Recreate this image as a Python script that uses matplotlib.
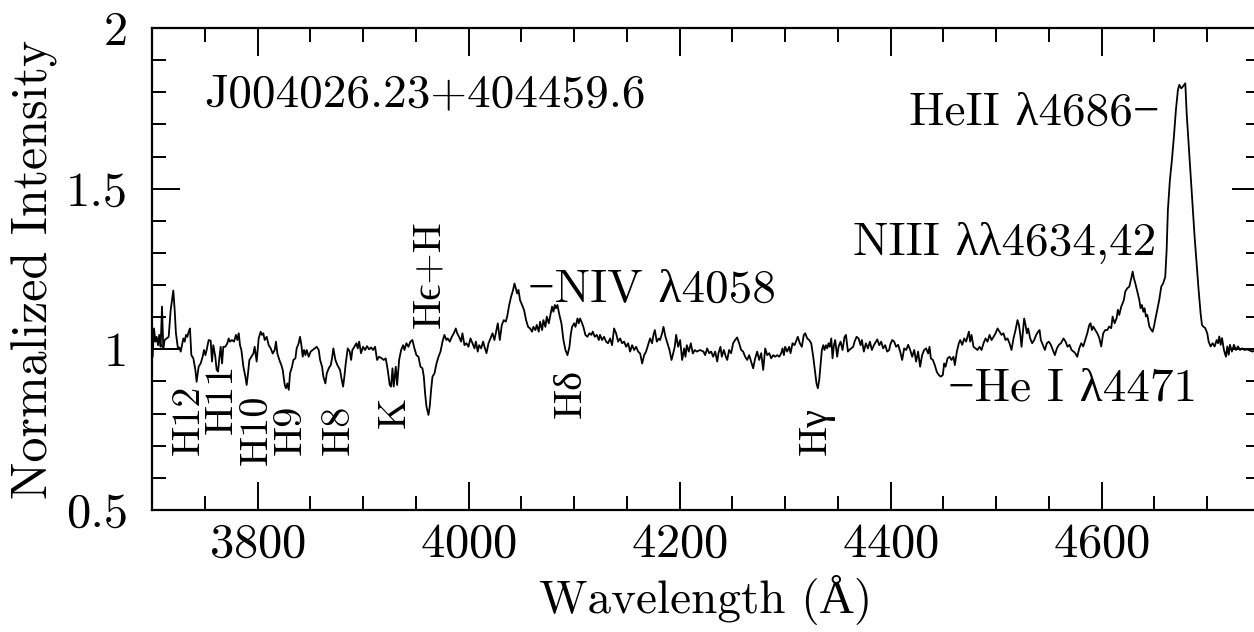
import matplotlib
matplotlib.use("Agg")
import matplotlib.pyplot as plt
from matplotlib.ticker import MultipleLocator, FuncFormatter

plt.rcParams["font.family"] = ["cmr10", "Liberation Serif", "DejaVu Serif"]
plt.rcParams["mathtext.fontset"] = "cm"
plt.rcParams["axes.formatter.use_mathtext"] = True

# spectre (longueur d'onde en A, intensite normalisee)
wl = [
    # 3700 - 3876
    3700.6, 3701.9, 3703.2, 3704.4, 3705.7, 3706.9, 3708.2, 3709.5, 3710.7, 3712.0,
    3713.9, 3715.8, 3717.7, 3720.2, 3721.5, 3722.7, 3724.6, 3725.9, 3727.2, 3728.4,
    3729.7, 3731.0, 3732.2, 3733.5, 3734.8, 3736.0, 3737.3, 3739.2, 3741.1, 3742.3,
    3744.2, 3746.1, 3748.0, 3749.3, 3750.6, 3751.8, 3753.7, 3755.6, 3756.9, 3758.1,
    3760.0, 3761.3, 3762.6, 3763.8, 3765.1, 3766.4, 3767.6, 3769.5, 3771.4, 3772.7,
    3773.9, 3775.8, 3777.7, 3779.6, 3780.9, 3782.2, 3783.4, 3784.7, 3786.6, 3788.5,
    3789.7, 3791.0, 3792.3, 3794.2, 3796.1, 3797.3, 3799.2, 3801.1, 3803.0, 3804.3,
    3805.5, 3806.8, 3808.7, 3810.6, 3812.5, 3814.4, 3816.3, 3817.5, 3818.8, 3820.7,
    3822.6, 3823.9, 3825.8, 3827.0, 3828.3, 3829.6, 3830.8, 3832.7, 3834.0, 3835.9,
    3837.1, 3839.0, 3840.3, 3841.6, 3842.8, 3844.1, 3845.4, 3846.6, 3848.5, 3850.4,
    3852.3, 3854.2, 3856.1, 3858.0, 3859.3, 3861.2, 3862.4, 3864.3, 3865.6, 3867.5,
    3869.4, 3870.6, 3871.9, 3873.8, 3875.7,
    # 3878 - 4047
    3878.2, 3879.8, 3881.1, 3882.3, 3883.6, 3885.5, 3887.4, 3888.7, 3889.9, 3891.8,
    3893.7, 3895.0, 3896.3, 3898.1, 3900.0, 3901.9, 3903.8, 3905.7, 3907.6, 3909.5,
    3911.4, 3913.3, 3915.2, 3917.7, 3919.6, 3921.5, 3923.4, 3925.3, 3926.6, 3927.9,
    3929.1, 3931.0, 3932.3, 3934.2, 3936.1, 3938.0, 3939.2, 3941.1, 3943.0, 3944.9,
    3946.8, 3948.7, 3950.6, 3952.5, 3954.4, 3956.3, 3957.6, 3958.8, 3960.1, 3962.0,
    3963.2, 3964.5, 3965.8, 3967.7, 3969.6, 3971.5, 3973.4, 3975.3, 3977.1, 3979.0,
    3980.3, 3982.2, 3984.1, 3986.0, 3987.9, 3989.2, 3991.0, 3992.9, 3994.2, 3996.1,
    3998.0, 3999.9, 4001.8, 4003.7, 4005.6, 4006.9, 4008.7, 4010.0, 4011.9, 4013.8,
    4015.1, 4017.0, 4018.9, 4020.8, 4022.7, 4024.5, 4025.8, 4027.7, 4029.6, 4031.5,
    4033.4, 4035.3, 4036.6, 4038.5, 4040.3, 4042.2, 4043.5, 4044.8, 4046.0, 4047.3,
    # 4049 - 4223
    4048.8, 4050.7, 4052.6, 4054.5, 4056.4, 4058.3, 4060.2, 4061.4, 4063.3, 4064.6,
    4066.5, 4067.8, 4069.7, 4070.9, 4072.8, 4074.1, 4076.0, 4077.9, 4079.1, 4080.4,
    4081.7, 4082.9, 4084.2, 4086.1, 4088.0, 4089.9, 4091.8, 4093.7, 4095.6, 4096.8,
    4098.1, 4100.0, 4101.3, 4103.2, 4104.4, 4105.7, 4107.6, 4108.8, 4110.7, 4112.6,
    4114.5, 4116.4, 4117.7, 4119.6, 4121.5, 4123.4, 4124.6, 4126.5, 4128.4, 4130.3,
    4132.2, 4134.1, 4136.0, 4137.9, 4139.8, 4141.7, 4143.6, 4145.5, 4147.4, 4149.3,
    4151.2, 4153.1, 4155.0, 4156.9, 4158.8, 4160.7, 4162.6, 4164.5, 4166.4, 4168.2,
    4170.1, 4172.0, 4173.9, 4175.2, 4176.5, 4178.4, 4180.3, 4181.5, 4183.4, 4184.7,
    4186.6, 4188.5, 4190.4, 4192.3, 4193.5, 4195.4, 4196.7, 4198.6, 4200.5, 4202.4,
    4204.3, 4205.5, 4206.8, 4208.7, 4210.6, 4212.5, 4214.4, 4216.3, 4219.4, 4222.6,
    # 4224 - 4399
    4224.2, 4226.1, 4228.0, 4229.9, 4231.8, 4233.7, 4235.6, 4236.8, 4238.7, 4240.0,
    4241.9, 4243.8, 4245.1, 4246.9, 4248.8, 4250.7, 4252.6, 4254.5, 4256.4, 4258.3,
    4260.2, 4262.1, 4264.0, 4265.9, 4267.8, 4269.7, 4271.6, 4273.5, 4275.4, 4277.3,
    4279.2, 4281.1, 4283.0, 4284.9, 4286.8, 4288.7, 4290.6, 4292.5, 4294.4, 4296.3,
    4297.5, 4298.8, 4300.0, 4301.9, 4303.8, 4305.1, 4307.0, 4308.9, 4310.8, 4312.0,
    4313.9, 4315.8, 4317.7, 4319.0, 4320.9, 4322.8, 4324.7, 4326.6, 4328.5, 4329.7,
    4331.0, 4332.3, 4333.5, 4334.8, 4336.1, 4337.3, 4338.6, 4339.9, 4341.1, 4342.4,
    4343.7, 4344.9, 4346.2, 4347.4, 4349.3, 4350.6, 4352.5, 4354.4, 4356.3, 4357.6,
    4359.5, 4360.7, 4362.6, 4364.5, 4365.8, 4367.7, 4369.6, 4371.5, 4372.7, 4374.6,
    4376.5, 4378.4, 4380.3, 4382.2, 4384.1, 4386.0, 4387.3, 4389.2, 4391.0, 4392.9,
    4394.8, 4396.7, 4398.6,
    # 4400 - 4573
    4399.5, 4401.4, 4403.3, 4405.2, 4407.1, 4409.0, 4410.9, 4412.8, 4414.7, 4416.6,
    4418.5, 4420.4, 4422.3, 4424.1, 4426.0, 4427.9, 4429.8, 4431.7, 4433.6, 4435.5,
    4436.8, 4438.1, 4440.0, 4441.8, 4443.7, 4445.6, 4447.5, 4449.4, 4450.7, 4452.0,
    4453.9, 4455.8, 4457.6, 4459.5, 4460.8, 4462.7, 4464.6, 4465.9, 4467.8, 4469.7,
    4471.5, 4472.8, 4474.1, 4475.3, 4476.6, 4478.5, 4480.4, 4482.3, 4484.2, 4486.1,
    4488.0, 4489.9, 4491.8, 4493.7, 4495.6, 4497.5, 4499.4, 4501.3, 4503.2, 4505.0,
    4506.9, 4508.8, 4510.7, 4512.6, 4514.5, 4516.4, 4518.3, 4520.2, 4521.5, 4522.7,
    4524.0, 4525.3, 4526.5, 4527.8, 4529.1, 4530.3, 4532.2, 4534.1, 4536.0, 4537.9,
    4539.8, 4541.1, 4542.3, 4544.2, 4546.1, 4548.0, 4549.9, 4551.8, 4553.7, 4555.6,
    4557.5, 4559.4, 4561.3, 4563.8, 4565.7, 4567.6, 4569.5, 4571.4, 4573.3,
    # 4575 - 4745
    4574.9, 4576.8, 4578.7, 4580.6, 4582.5, 4584.4, 4586.3, 4588.2, 4589.4, 4590.7,
    4592.0, 4593.9, 4595.8, 4597.7, 4599.5, 4601.4, 4603.3, 4605.2, 4607.1, 4609.0,
    4610.3, 4612.2, 4614.1, 4615.3, 4616.6, 4618.5, 4619.8, 4621.0, 4622.3, 4624.2,
    4626.1, 4628.0, 4629.3, 4630.5, 4631.8, 4633.7, 4635.6, 4636.8, 4638.1, 4639.4,
    4640.6, 4641.9, 4643.2, 4645.1, 4647.0, 4648.2, 4649.5, 4650.7, 4652.6, 4654.5,
    4656.4, 4658.3, 4660.2, 4661.5, 4662.7, 4664.6, 4666.5, 4668.4, 4670.3, 4672.2,
    4673.5, 4675.4, 4676.7, 4678.0, 4679.2, 4680.5, 4682.3, 4684.2, 4686.1, 4688.0,
    4689.9, 4691.8, 4693.7, 4695.0, 4696.2, 4698.1, 4700.0, 4701.3, 4703.2, 4705.1,
    4707.0, 4708.9, 4710.2, 4711.4, 4712.7, 4714.0, 4715.8, 4717.7, 4719.0, 4720.3,
    4721.5, 4723.4, 4725.3, 4727.2, 4729.1, 4731.0, 4732.9, 4735.4, 4738.0, 4740.5,
    4743.0, 4744.3,
]

flux = [
    0.977, 1.065, 1.024, 1.039, 1.013, 1.045, 1.008, 1.133, 1.003, 1.029,
    1.034, 1.039, 1.122, 1.183, 1.122, 1.050, 1.003, 1.006, 0.993, 1.013,
    1.034, 1.024, 1.045, 1.039, 1.055, 1.065, 0.982, 0.972, 0.936, 0.899,
    0.946, 0.956, 0.977, 0.998, 0.982, 0.998, 1.029, 1.027, 0.962, 1.013,
    0.977, 0.936, 0.931, 0.972, 1.008, 0.956, 1.008, 1.008, 1.019, 1.034,
    1.024, 1.029, 1.024, 1.045, 1.029, 1.050, 1.013, 0.998, 0.946, 0.915,
    0.889, 0.925, 0.967, 0.977, 0.987, 1.008, 0.962, 1.034, 1.055, 1.045,
    1.050, 1.029, 1.039, 1.013, 1.003, 0.987, 0.998, 1.024, 0.987, 0.967,
    0.951, 0.936, 0.889, 0.879, 0.894, 0.874, 0.925, 0.946, 0.967, 0.972,
    1.003, 1.019, 1.039, 1.013, 0.977, 0.998, 0.982, 0.998, 0.977, 0.993,
    0.998, 1.003, 1.008, 0.998, 0.967, 0.946, 0.915, 0.894, 0.925, 0.941,
    0.951, 0.972, 1.003, 0.967, 0.951,
    0.936, 0.905, 0.884, 0.915, 0.956, 1.003, 0.993, 0.967, 0.998, 1.008,
    1.019, 1.003, 1.024, 0.988, 1.008, 0.998, 1.010, 1.000, 1.006, 0.998,
    1.008, 0.967, 0.977, 0.972, 0.967, 0.972, 0.936, 0.889, 0.884, 0.941,
    0.884, 0.946, 0.889, 0.967, 0.998, 1.013, 0.998, 1.019, 1.008, 1.024,
    1.029, 1.003, 0.982, 0.977, 0.946, 0.941, 0.915, 0.863, 0.822, 0.796,
    0.822, 0.874, 0.915, 0.925, 0.956, 0.977, 0.993, 1.024, 1.045, 1.029,
    1.034, 1.024, 1.039, 1.050, 1.065, 1.050, 1.039, 1.024, 1.050, 1.013,
    1.019, 1.008, 1.034, 1.019, 1.003, 1.024, 0.993, 1.013, 1.003, 1.024,
    1.008, 0.988, 1.019, 1.034, 1.050, 1.029, 1.050, 1.081, 1.029, 1.076,
    1.091, 1.086, 1.102, 1.138, 1.164, 1.185, 1.205, 1.190, 1.174, 1.185,
    1.153, 1.138, 1.122, 1.091, 1.070, 1.065, 1.055, 1.070, 1.060, 1.076,
    1.055, 1.086, 1.060, 1.091, 1.070, 1.102, 1.081, 1.112, 1.133, 1.117,
    1.138, 1.128, 1.138, 1.107, 1.081, 1.029, 0.998, 0.982, 1.008, 1.045,
    1.070, 1.081, 1.070, 1.096, 1.081, 1.096, 1.081, 1.070, 1.045, 1.039,
    1.050, 1.045, 1.055, 1.039, 1.045, 1.029, 1.045, 1.029, 1.039, 1.024,
    1.019, 1.034, 1.013, 1.065, 1.050, 1.024, 1.034, 1.019, 1.024, 1.008,
    1.019, 0.993, 1.013, 0.998, 1.008, 0.993, 0.987, 0.956, 0.982, 0.993,
    1.013, 1.034, 1.019, 1.045, 1.060, 1.024, 1.034, 1.029, 1.050, 1.070,
    1.039, 1.019, 0.998, 0.967, 0.982, 1.008, 1.045, 1.008, 1.029, 0.967,
    1.003, 0.977, 1.013, 0.993, 1.019, 0.987, 0.998, 0.993, 0.998, 0.993,
    0.982, 1.003, 0.988, 0.993, 0.977, 0.993, 0.962, 0.988, 1.008, 0.977,
    0.998, 0.977, 0.967, 0.998, 0.988, 1.019, 1.029, 1.037, 1.019, 0.998,
    0.993, 0.977, 0.967, 0.982, 0.962, 0.941, 0.972, 0.993, 0.967, 0.988,
    0.936, 1.003, 0.982, 0.988, 0.972, 0.982, 0.977, 0.982, 0.977, 0.988,
    1.003, 0.982, 1.008, 0.993, 1.008, 0.988, 1.019, 1.013, 1.029, 1.039,
    1.019, 1.008, 1.045, 1.050, 1.034, 1.029, 1.019, 0.977, 0.925, 0.894,
    0.879, 0.905, 0.951, 0.998, 1.013, 0.998, 1.013, 1.003, 1.019, 1.008,
    1.034, 0.972, 1.013, 1.029, 0.977, 1.008, 1.024, 0.998, 1.039, 1.045,
    0.993, 0.998, 1.003, 1.008, 1.024, 1.039, 1.034, 1.013, 1.029, 0.993,
    1.019, 1.003, 1.024, 0.998, 1.013, 1.024, 1.031, 1.013, 1.024, 1.003,
    1.013, 0.993, 0.998,
    1.014, 1.029, 1.024, 1.008, 1.014, 0.993, 0.967, 1.003, 0.998, 1.014,
    0.998, 0.977, 0.998, 0.962, 0.993, 0.946, 0.982, 0.998, 1.003, 0.987,
    1.008, 0.972, 0.967, 0.951, 0.930, 0.920, 0.915, 0.920, 0.956, 0.946,
    0.972, 0.977, 0.967, 0.977, 0.951, 0.993, 1.019, 1.029, 1.014, 1.034,
    1.024, 1.039, 1.055, 1.024, 1.045, 1.008, 1.003, 0.998, 1.008, 0.998,
    1.019, 1.034, 1.024, 1.045, 1.029, 1.039, 1.050, 1.065, 1.055, 1.045,
    1.050, 1.029, 1.034, 1.019, 0.998, 1.034, 1.060, 1.091, 1.076, 1.050,
    1.008, 1.055, 1.096, 1.076, 1.050, 1.065, 1.034, 1.019, 1.029, 1.045,
    1.055, 1.060, 1.029, 1.014, 0.998, 1.019, 1.024, 1.014, 0.998, 0.982,
    1.003, 1.014, 1.019, 1.034, 1.024, 1.008, 1.014, 0.998, 0.993,
    0.988, 0.977, 1.003, 1.019, 1.009, 1.029, 1.050, 1.076, 1.081, 1.060,
    1.071, 1.060, 1.050, 1.035, 1.009, 1.050, 1.060, 1.060, 1.071, 1.066,
    1.102, 1.081, 1.097, 1.123, 1.107, 1.133, 1.143, 1.154, 1.180, 1.190,
    1.195, 1.221, 1.242, 1.221, 1.206, 1.180, 1.154, 1.128, 1.138, 1.117,
    1.128, 1.102, 1.107, 1.071, 1.060, 1.055, 1.071, 1.092, 1.123, 1.154,
    1.195, 1.206, 1.226, 1.309, 1.434, 1.527, 1.589, 1.662, 1.745, 1.807,
    1.823, 1.812, 1.817, 1.823, 1.828, 1.734, 1.641, 1.538, 1.444, 1.351,
    1.268, 1.185, 1.112, 1.076, 1.071, 1.066, 1.050, 1.024, 1.009, 1.019,
    1.009, 1.029, 1.019, 1.040, 1.014, 1.035, 0.998, 0.977, 1.009, 0.983,
    1.014, 0.993, 1.014, 0.998, 1.009, 0.998, 1.003, 0.998, 1.000, 0.996,
    0.993, 0.998,
]

# petit segment de continuum au debut du spectre
cont_wl = [3700, 3725]
cont_flux = [1.0, 1.0]

xticks_major = [3800, 4000, 4200, 4400, 4600]
yticks_major = [0.5, 1.0, 1.5, 2.0]

fig = plt.figure(figsize=(12.54, 6.32), dpi=100)
ax = fig.add_axes([0.1212, 0.1930, 0.8836, 0.7627])

ax.plot(wl, flux, color="black", lw=1.3)
ax.plot(cont_wl, cont_flux, color="black", lw=1.3)

ax.set_xlim(3700, 4750)
ax.set_ylim(0.5, 2.0)
ax.set_xticks(xticks_major)
ax.set_yticks(yticks_major)
ax.xaxis.set_minor_locator(MultipleLocator(50))
ax.yaxis.set_minor_locator(MultipleLocator(0.1))
ax.yaxis.set_major_formatter(FuncFormatter(lambda v, p: "%g" % v))

ax.tick_params(which="both", direction="in", top=True, right=True, width=1.4)
ax.tick_params(which="major", length=20, labelsize=35)
ax.tick_params(axis="x", which="major", pad=9)
ax.tick_params(axis="y", which="major", pad=17)
ax.tick_params(which="minor", length=10)
for s in ax.spines.values():
    s.set_linewidth(1.6)

ax.set_xlabel("Wavelength (Å)", fontsize=34, labelpad=6)
ax.set_ylabel("Normalized Intensity", fontsize=36, labelpad=6)

fs = 34
ax.text(3750, 1.755, "J004026.23+404459.6", fontsize=fs, va="baseline")
ax.text(4655, 1.698, "HeII λ4686−", fontsize=fs, ha="right", va="baseline")
ax.text(4652, 1.293, "NIII λλ4634,42", fontsize=fs, ha="right", va="baseline")
ax.text(4056, 1.147, "−NIV λ4058", fontsize=fs, ha="left", va="baseline")
ax.text(4454, 0.842, "−He I λ4471", fontsize=fs, ha="left", va="baseline")

rot_labels = ["H12", "H11", "H10", "H9", "H8", "K", "Hϵ+H", "Hδ", "Hγ"]
rot_x = [3735, 3766, 3799, 3832, 3877, 3930, 3963, 4097, 4330]
rot_y = [0.671, 0.738, 0.64, 0.671, 0.671, 0.755, 1.066, 0.786, 0.671]
for lab, x, y in zip(rot_labels, rot_x, rot_y):
    ax.text(x, y, lab, fontsize=29, rotation=90, ha="center", va="bottom")

fig.savefig("out.png", dpi=100)
